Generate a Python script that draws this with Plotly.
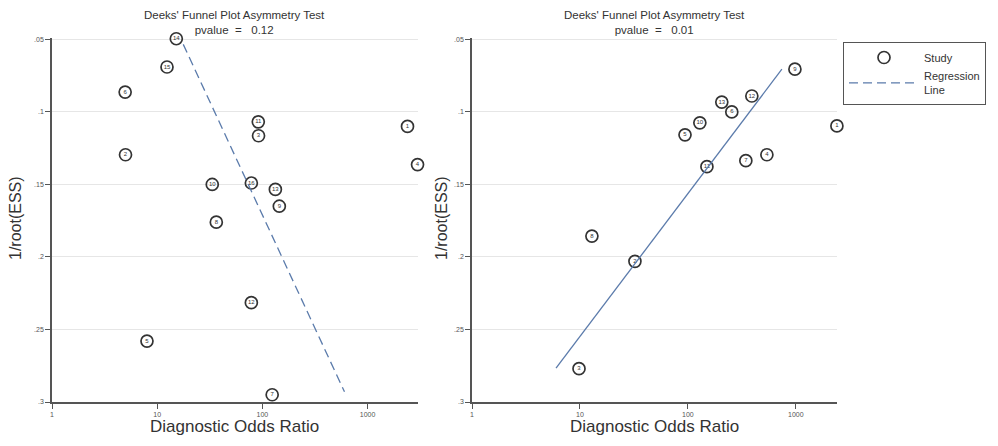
import plotly.graph_objects as go

# ---------------- data ----------------
left_ids = [1, 2, 3, 4, 5, 6, 7, 8, 9, 10, 11, 12, 13, 14, 15, 16]
left_dor = [2400, 5.0, 92, 2990, 8.0, 4.96, 124, 36.5, 145, 33.4, 91.5, 78.6, 133, 15.2, 12.4, 78.6]
left_ess = [0.110, 0.1295, 0.1164, 0.1363, 0.258, 0.0863, 0.295, 0.176, 0.165, 0.150,
            0.1068, 0.2315, 0.1534, 0.0495, 0.069, 0.149]
left_reg_x = [17.7, 604]
left_reg_y = [0.0534, 0.293]
left_p = "0.12"

right_ids = [1, 2, 3, 4, 5, 6, 7, 8, 9, 10, 11, 12, 13]
right_dor = [2400, 32.3, 9.8, 539, 94, 255, 344, 12.9, 980, 129, 150, 391, 206]
right_ess = [0.1096, 0.203, 0.277, 0.1295, 0.1158, 0.100, 0.1336, 0.1856, 0.0705,
             0.1075, 0.1377, 0.089, 0.0932]
right_reg_x = [6.0, 742]
right_reg_y = [0.2767, 0.0705]
right_p = "0.01"

y_ticks = [0.05, 0.1, 0.15, 0.2, 0.25, 0.3]
y_ticktext = [".05", ".1", ".15", ".2", ".25", ".3"]
x_ticks = [1, 10, 100, 1000]
x_ticktext = ["1", "10", "100", "1000"]

# ---------------- figure ----------------
OFF = 8  # browser body margin
W, H = 998 - 2 * OFF, 446 - 2 * OFF


def px(x):
    return (x - OFF) / W


def py(y):
    return 1 - (y - OFF) / H


fig = go.Figure()

line_col = "#5b7bab"
mk_col = "#333333"
FONT = "Liberation Sans, Arial, sans-serif"


def add_panel(ids, xs, ys, rx, ry, xa, ya, showleg, dash):
    fig.add_trace(go.Scatter(
        x=xs, y=ys, mode="markers+text", text=[str(i) for i in ids],
        textposition="middle center",
        textfont=dict(size=6, color=mk_col, family=FONT),
        marker=dict(symbol="circle-open", size=12, color=mk_col, line=dict(width=1.7, color=mk_col)),
        name="Study", showlegend=showleg, xaxis=xa, yaxis=ya, cliponaxis=False))
    fig.add_trace(go.Scatter(
        x=rx, y=ry, mode="lines", line=dict(color=line_col, width=1.3, dash=dash),
        name="Regression<br>Line", showlegend=showleg, xaxis=xa, yaxis=ya))


add_panel(left_ids, left_dor, left_ess, left_reg_x, left_reg_y, "x", "y", True, "9px,5px")
add_panel(right_ids, right_dor, right_ess, right_reg_x, right_reg_y, "x2", "y2", False, "solid")

ydom = [py(402), py(38)]
axis_common = dict(showline=True, linecolor="#555555", linewidth=1.5, ticks="outside",
                   ticklen=5, tickcolor="#555555", tickwidth=1, automargin=False,
                   tickfont=dict(size=7, color="#555555", family=FONT), zeroline=False)

fig.update_layout(
    width=W, height=H, margin=dict(l=0, r=0, t=0, b=0, autoexpand=False),
    paper_bgcolor="white", plot_bgcolor="white",
    font=dict(family=FONT, color="#333333"),
    xaxis=dict(domain=[px(52), px(418)], type="log", range=[0, 3.48],
               tickvals=x_ticks, ticktext=x_ticktext, showgrid=False, anchor="y", **axis_common),
    yaxis=dict(domain=ydom, range=[0.3, 0.049], tickvals=y_ticks, ticktext=y_ticktext,
               showgrid=True, gridcolor="#e6e6e6", gridwidth=1, anchor="x", **axis_common),
    xaxis2=dict(domain=[px(472), px(837)], type="log", range=[0, 3.381],
                tickvals=x_ticks, ticktext=x_ticktext, showgrid=False, anchor="y2", **axis_common),
    yaxis2=dict(domain=ydom, range=[0.3, 0.049], tickvals=y_ticks, ticktext=y_ticktext,
                showgrid=True, gridcolor="#e6e6e6", gridwidth=1, anchor="x2", **axis_common),
    legend=dict(x=px(843), y=py(42), xanchor="left", yanchor="top",
                bordercolor="#555555", borderwidth=1, bgcolor="white",
                font=dict(size=11, color="#333333", family=FONT),
                itemwidth=70, tracegroupgap=2),
)

ann = []
for cx, p in [((52 + 416) / 2, left_p), ((472 + 837) / 2, right_p)]:
    ann.append(dict(x=px(cx), y=py(22), xref="paper", yref="paper", showarrow=False,
                    text="Deeks' Funnel Plot Asymmetry Test<br>pvalue&nbsp;&nbsp;=&nbsp;&nbsp;&nbsp;" + p,
                    font=dict(size=11.5, color="#333333"),
                    xanchor="center", yanchor="middle"))
    ann.append(dict(x=px(cx), y=py(438), xref="paper", yref="paper", showarrow=False,
                    text="Diagnostic Odds Ratio", font=dict(size=17, color="#333333"),
                    xanchor="center", yanchor="bottom"))
for ax in [15, 441]:
    ann.append(dict(x=px(ax), y=py(218), xref="paper", yref="paper", showarrow=False,
                    text="1/root(ESS)", textangle=-90, font=dict(size=16, color="#333333"),
                    xanchor="center", yanchor="middle"))
fig.update_layout(annotations=ann)

fig.write_html("out.html")
